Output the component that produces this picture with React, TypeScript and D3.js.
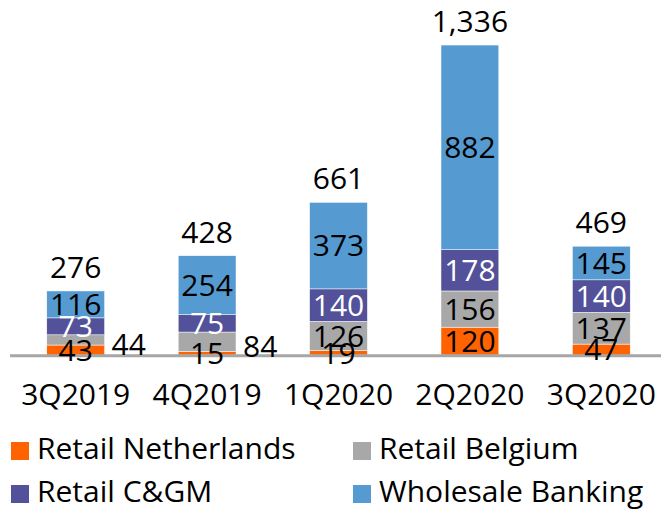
import React from "react";
import * as d3 from "d3";

const categories = ["3Q2019", "4Q2019", "1Q2020", "2Q2020", "3Q2020"];
const retailNetherlands = [43, 15, 19, 120, 47];
const retailBelgium = [44, 84, 126, 156, 137];
const retailCGM = [73, 75, 140, 178, 140];
const wholesaleBanking = [116, 254, 373, 882, 145];
const totals = [276, 428, 661, 1336, 469];

const seriesNames = ["Retail Netherlands", "Retail Belgium", "Retail C&GM", "Wholesale Banking"];
const seriesColors = ["#FF6200", "#A8A8A8", "#525199", "#559BD2"];
const labelColors = ["#000", "#000", "#fff", "#000"];

const W = 661;
const H = 510;
const FONT = "'Open Sans', sans-serif";

export default function App() {
  const seriesValues = [retailNetherlands, retailBelgium, retailCGM, wholesaleBanking];
  const rows = categories.map((c, i) => {
    const r: any = { cat: c };
    seriesNames.forEach((s, k) => (r[s] = seriesValues[k][i]));
    return r;
  });
  const stacked = d3.stack().keys(seriesNames)(rows);

  const x = d3
    .scaleBand()
    .domain(categories)
    .range([10, 667])
    .paddingInner(0.56)
    .paddingOuter(0.28);
  const y = d3.scaleLinear().domain([0, 1400]).range([355, 30.2]);
  const fmt = d3.format(",");

  return (
    <svg
      width={W}
      height={H}
      style={{ position: "absolute", left: 0, top: 0, background: "#fff" }}
      fontFamily={FONT}
    >
      {stacked.map((layer, k) =>
        layer.map((d, i) => (
          <rect
            key={`r${k}-${i}`}
            x={x(categories[i])}
            y={y(d[1])}
            width={x.bandwidth()}
            height={y(d[0]) - y(d[1])}
            fill={seriesColors[k]}
            stroke="#ffffff"
            strokeWidth={0.5}
          />
        ))
      )}
      <line x1={10} x2={661} y1={355.8} y2={355.8} stroke="#A6A6A6" strokeWidth={3} />
      {stacked.map((layer, k) =>
        layer.map((d, i) => {
          const v = seriesValues[k][i];
          const outside = k === 1 && v < 100;
          const cx = outside
            ? (x(categories[i]) as number) + x.bandwidth() + 7
            : (x(categories[i]) as number) + x.bandwidth() / 2;
          const cy = (y(d[0]) + y(d[1])) / 2 + (outside ? 4 : 0);
          return (
            <text
              key={`l${k}-${i}`}
              x={cx}
              y={cy}
              dy="0.36em"
              textAnchor={outside ? "start" : "middle"}
              fontSize={30}
              fill={outside ? "#000" : labelColors[k]}
            >
              {v}
            </text>
          );
        })
      )}
      {categories.map((c, i) => {
        const top = stacked[stacked.length - 1][i][1];
        return (
          <text
            key={`t${i}`}
            x={(x(c) as number) + x.bandwidth() / 2}
            y={y(top) - 13}
            textAnchor="middle"
            fontSize={30}
            fill="#000"
          >
            {fmt(totals[i])}
          </text>
        );
      })}
      {categories.map((c, i) => (
        <text
          key={`c${i}`}
          x={(x(c) as number) + x.bandwidth() / 2}
          y={405}
          textAnchor="middle"
          fontSize={30}
          fill="#000"
        >
          {c}
        </text>
      ))}
      {seriesNames.map((s, k) => {
        const col = k % 2;
        const row = Math.floor(k / 2);
        const lx = col === 0 ? 11 : 353;
        const ly = row === 0 ? 459 : 502;
        return (
          <g key={`lg${k}`}>
            <rect x={lx} y={ly - 17} width={18} height={18} fill={seriesColors[k]} />
            <text x={lx + 26} y={ly} fontSize={30} fill="#000">
              {s}
            </text>
          </g>
        );
      })}
    </svg>
  );
}
